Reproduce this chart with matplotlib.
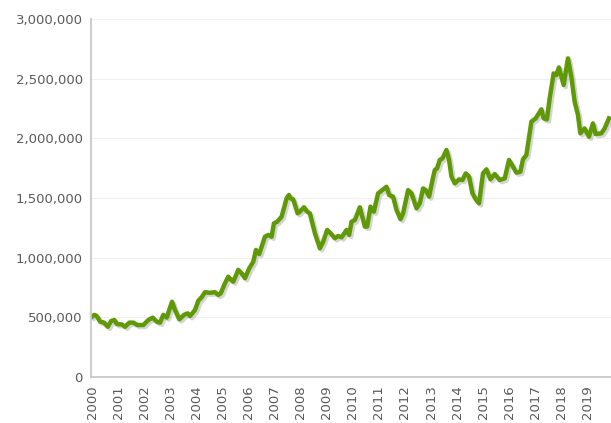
import matplotlib
matplotlib.use('Agg')
import matplotlib.pyplot as plt
import matplotlib.patheffects as pe
from matplotlib.ticker import FuncFormatter

# values (decimal year, value in thousands)
years = [2000.0, 2000.088, 2000.180, 2000.307, 2000.460, 2000.602, 2000.728, 2000.854, 2000.946,
         2001.138, 2001.264, 2001.429, 2001.582, 2001.736, 2001.966, 2002.157, 2002.326, 2002.479,
         2002.605, 2002.732, 2002.862, 2003.065, 2003.180, 2003.345, 2003.525, 2003.667, 2003.755,
         2003.946, 2004.073, 2004.203, 2004.330, 2004.521, 2004.713, 2004.839, 2004.931, 2005.096,
         2005.222, 2005.314, 2005.414, 2005.605, 2005.736, 2005.862, 2006.027, 2006.180, 2006.284,
         2006.410, 2006.628, 2006.755, 2006.885, 2006.973, 2007.100, 2007.268, 2007.460,
         2007.548, 2007.613, 2007.713, 2007.881, 2007.969, 2008.123, 2008.249, 2008.352, 2008.544,
         2008.736, 2008.862, 2009.015, 2009.146, 2009.310, 2009.437, 2009.567, 2009.759, 2009.858,
         2009.950, 2010.077, 2010.268, 2010.460, 2010.548, 2010.678, 2010.805, 2010.969, 2011.100,
         2011.291, 2011.391, 2011.544, 2011.674, 2011.828, 2011.927, 2012.119, 2012.249, 2012.441,
         2012.567, 2012.693, 2012.797, 2012.923, 2013.054, 2013.142, 2013.230, 2013.333, 2013.437,
         2013.590, 2013.690, 2013.782, 2013.908, 2014.073, 2014.203, 2014.330, 2014.456, 2014.586,
         2014.713, 2014.839, 2014.992, 2015.123, 2015.276, 2015.441, 2015.632, 2015.824, 2015.989,
         2016.142, 2016.272, 2016.425, 2016.525, 2016.655, 2016.847, 2017.011, 2017.230, 2017.318,
         2017.444, 2017.548, 2017.701, 2017.803, 2017.904, 2018.084, 2018.249, 2018.379, 2018.506,
         2018.632, 2018.724, 2018.889, 2019.054, 2019.207, 2019.310, 2019.529, 2019.655, 2019.820]
values = [505, 520, 510, 463, 455, 420, 468, 477, 443,
          440, 420, 455, 455, 435, 435, 477, 497, 463,
          455, 520, 497, 630, 560, 482, 520, 533, 510,
          560, 638, 668, 710, 705, 710, 687, 700, 785,
          840, 818, 798, 897, 868, 827, 910, 965, 1064,
          1030, 1175, 1190, 1175, 1287, 1301, 1343, 1497,
          1525, 1497, 1488, 1371, 1385, 1422, 1385, 1371, 1204,
          1078, 1134, 1232, 1204, 1162, 1181, 1170, 1232, 1190,
          1301, 1315, 1422, 1260, 1260, 1427, 1385, 1539, 1561,
          1594, 1525, 1511, 1400, 1322, 1371, 1566, 1539, 1413,
          1455, 1580, 1566, 1511, 1650, 1734, 1748, 1818, 1832,
          1902, 1818, 1679, 1622, 1656, 1650, 1706, 1679, 1539,
          1488, 1455, 1706, 1740, 1656, 1701, 1650, 1664, 1818,
          1762, 1712, 1720, 1824, 1860, 2140, 2167, 2243, 2167,
          2159, 2335, 2544, 2530, 2594, 2447, 2670, 2516, 2307,
          2196, 2042, 2083, 2013, 2125, 2036, 2042, 2083, 2167]
values = [v * 1000 for v in values]

year_ticks = list(range(2000, 2020))
y_ticks = [0, 500000, 1000000, 1500000, 2000000, 2500000, 3000000]

fig = plt.figure(figsize=(6.11, 4.23), dpi=100)
ax = fig.add_axes([0.149, 0.109, 0.851, 0.846])

ax.plot(years, values, color='#5f9a06', lw=3.2, solid_joinstyle='round',
        path_effects=[pe.SimpleLineShadow(offset=(1.5, -1.5), shadow_color='#888888', alpha=0.35),
                      pe.Normal()])

ax.set_xlim(1999.96, 2019.9)
ax.set_ylim(0, 3000000)
ax.set_xticks(year_ticks)
ax.set_xticklabels([str(y) for y in year_ticks], rotation=90)
ax.set_yticks(y_ticks)
ax.yaxis.set_major_formatter(FuncFormatter(lambda v, p: f'{int(v):,}'))

ax.grid(axis='y', color='#f0f0f0', lw=0.8)
ax.set_axisbelow(True)
for s in ['top', 'right']:
    ax.spines[s].set_visible(False)
for s in ['left', 'bottom']:
    ax.spines[s].set_color('#c8c8c8')
    ax.spines[s].set_linewidth(1.3)
ax.tick_params(length=0, pad=6, labelsize=9.5, labelcolor='#5a5a5a')

fig.savefig('out.png', dpi=100)
